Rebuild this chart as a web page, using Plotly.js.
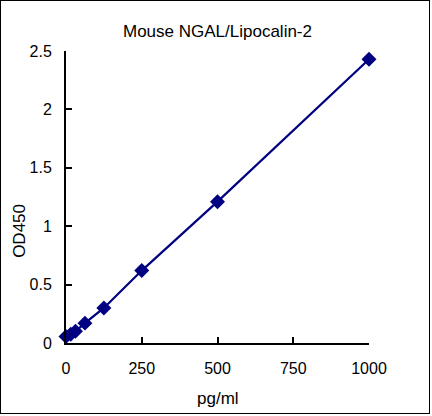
<!DOCTYPE html>
<html>
<head>
<meta charset="utf-8">
<script src="https://cdn.plot.ly/plotly-3.0.1.min.js"></script>
<style>
  html, body { margin: 0; padding: 0; background: #fff; }
  #wrap { position: relative; width: 432px; height: 416px; }
  #chart { position: absolute; left: 0; top: 0; width: 432px; height: 416px; }
  #frame { position: absolute; left: 0px; top: 0px; width: 428px; height: 412px; border: 1.5px solid #000; pointer-events: none; }
</style>
</head>
<body>
<div id="wrap"><div id="chart"></div><div id="frame"></div></div>
<script>
const concentration = [0, 15.6, 31.25, 62.5, 125, 250, 500, 1000];
const od450 = [0.055, 0.075, 0.10, 0.17, 0.30, 0.62, 1.21, 2.43];
const xTicks = [0, 250, 500, 750, 1000];
const yTicks = [0, 0.5, 1, 1.5, 2, 2.5];
const yTickText = ["0", "0.5", "1", "1.5", "2", "2.5"];
const chartTitle = "Mouse NGAL/Lipocalin-2";
const xTitle = "pg/ml";
const yTitle = "OD450";

const font = "Liberation Sans, Arial, sans-serif";
const trace = {
  x: concentration,
  y: od450,
  type: "scatter",
  mode: "lines+markers",
  line: { color: "#000080", width: 2.2 },
  marker: { symbol: "diamond", size: 11.5, color: "#000080" },
  cliponaxis: false,
  showlegend: false
};
const layout = {
  width: 432, height: 416,
  margin: { l: 66, r: 63, t: 51, b: 73 },
  paper_bgcolor: "#fff", plot_bgcolor: "#fff",
  font: { family: font, size: 16, color: "#000" },
  xaxis: {
    range: [0, 1000], tickvals: xTicks, ticktext: xTicks.map(String),
    showline: true, linecolor: "#000", linewidth: 2,
    ticks: "inside", ticklen: 6, tickwidth: 2, tickcolor: "#000",
    showgrid: false, zeroline: false, ticklabelstandoff: 10,
    tickfont: { family: font, size: 16 },
    fixedrange: true
  },
  yaxis: {
    range: [0, 2.5], tickvals: yTicks, ticktext: yTickText,
    showline: true, linecolor: "#000", linewidth: 2,
    ticks: "inside", ticklen: 6, tickwidth: 2, tickcolor: "#000",
    showgrid: false, zeroline: false, ticklabelstandoff: 9,
    tickfont: { family: font, size: 16 },
    fixedrange: true
  },
  annotations: [
    { text: chartTitle, xref: "paper", yref: "paper", x: 0.5, y: 1, yshift: 20,
      showarrow: false, xanchor: "center", yanchor: "middle", font: { family: font, size: 17 } },
    { text: xTitle, xref: "paper", yref: "paper", x: 0.5, y: 0, yshift: -55,
      showarrow: false, xanchor: "center", yanchor: "middle", font: { family: font, size: 17 } },
    { text: yTitle, xref: "paper", yref: "paper", x: 0, xshift: -46, y: 0.384,
      showarrow: false, xanchor: "center", yanchor: "middle", textangle: -90, font: { family: font, size: 17 } }
  ]
};
Plotly.newPlot("chart", [trace], layout, { staticPlot: true, displayModeBar: false });
</script>
</body>
</html>
